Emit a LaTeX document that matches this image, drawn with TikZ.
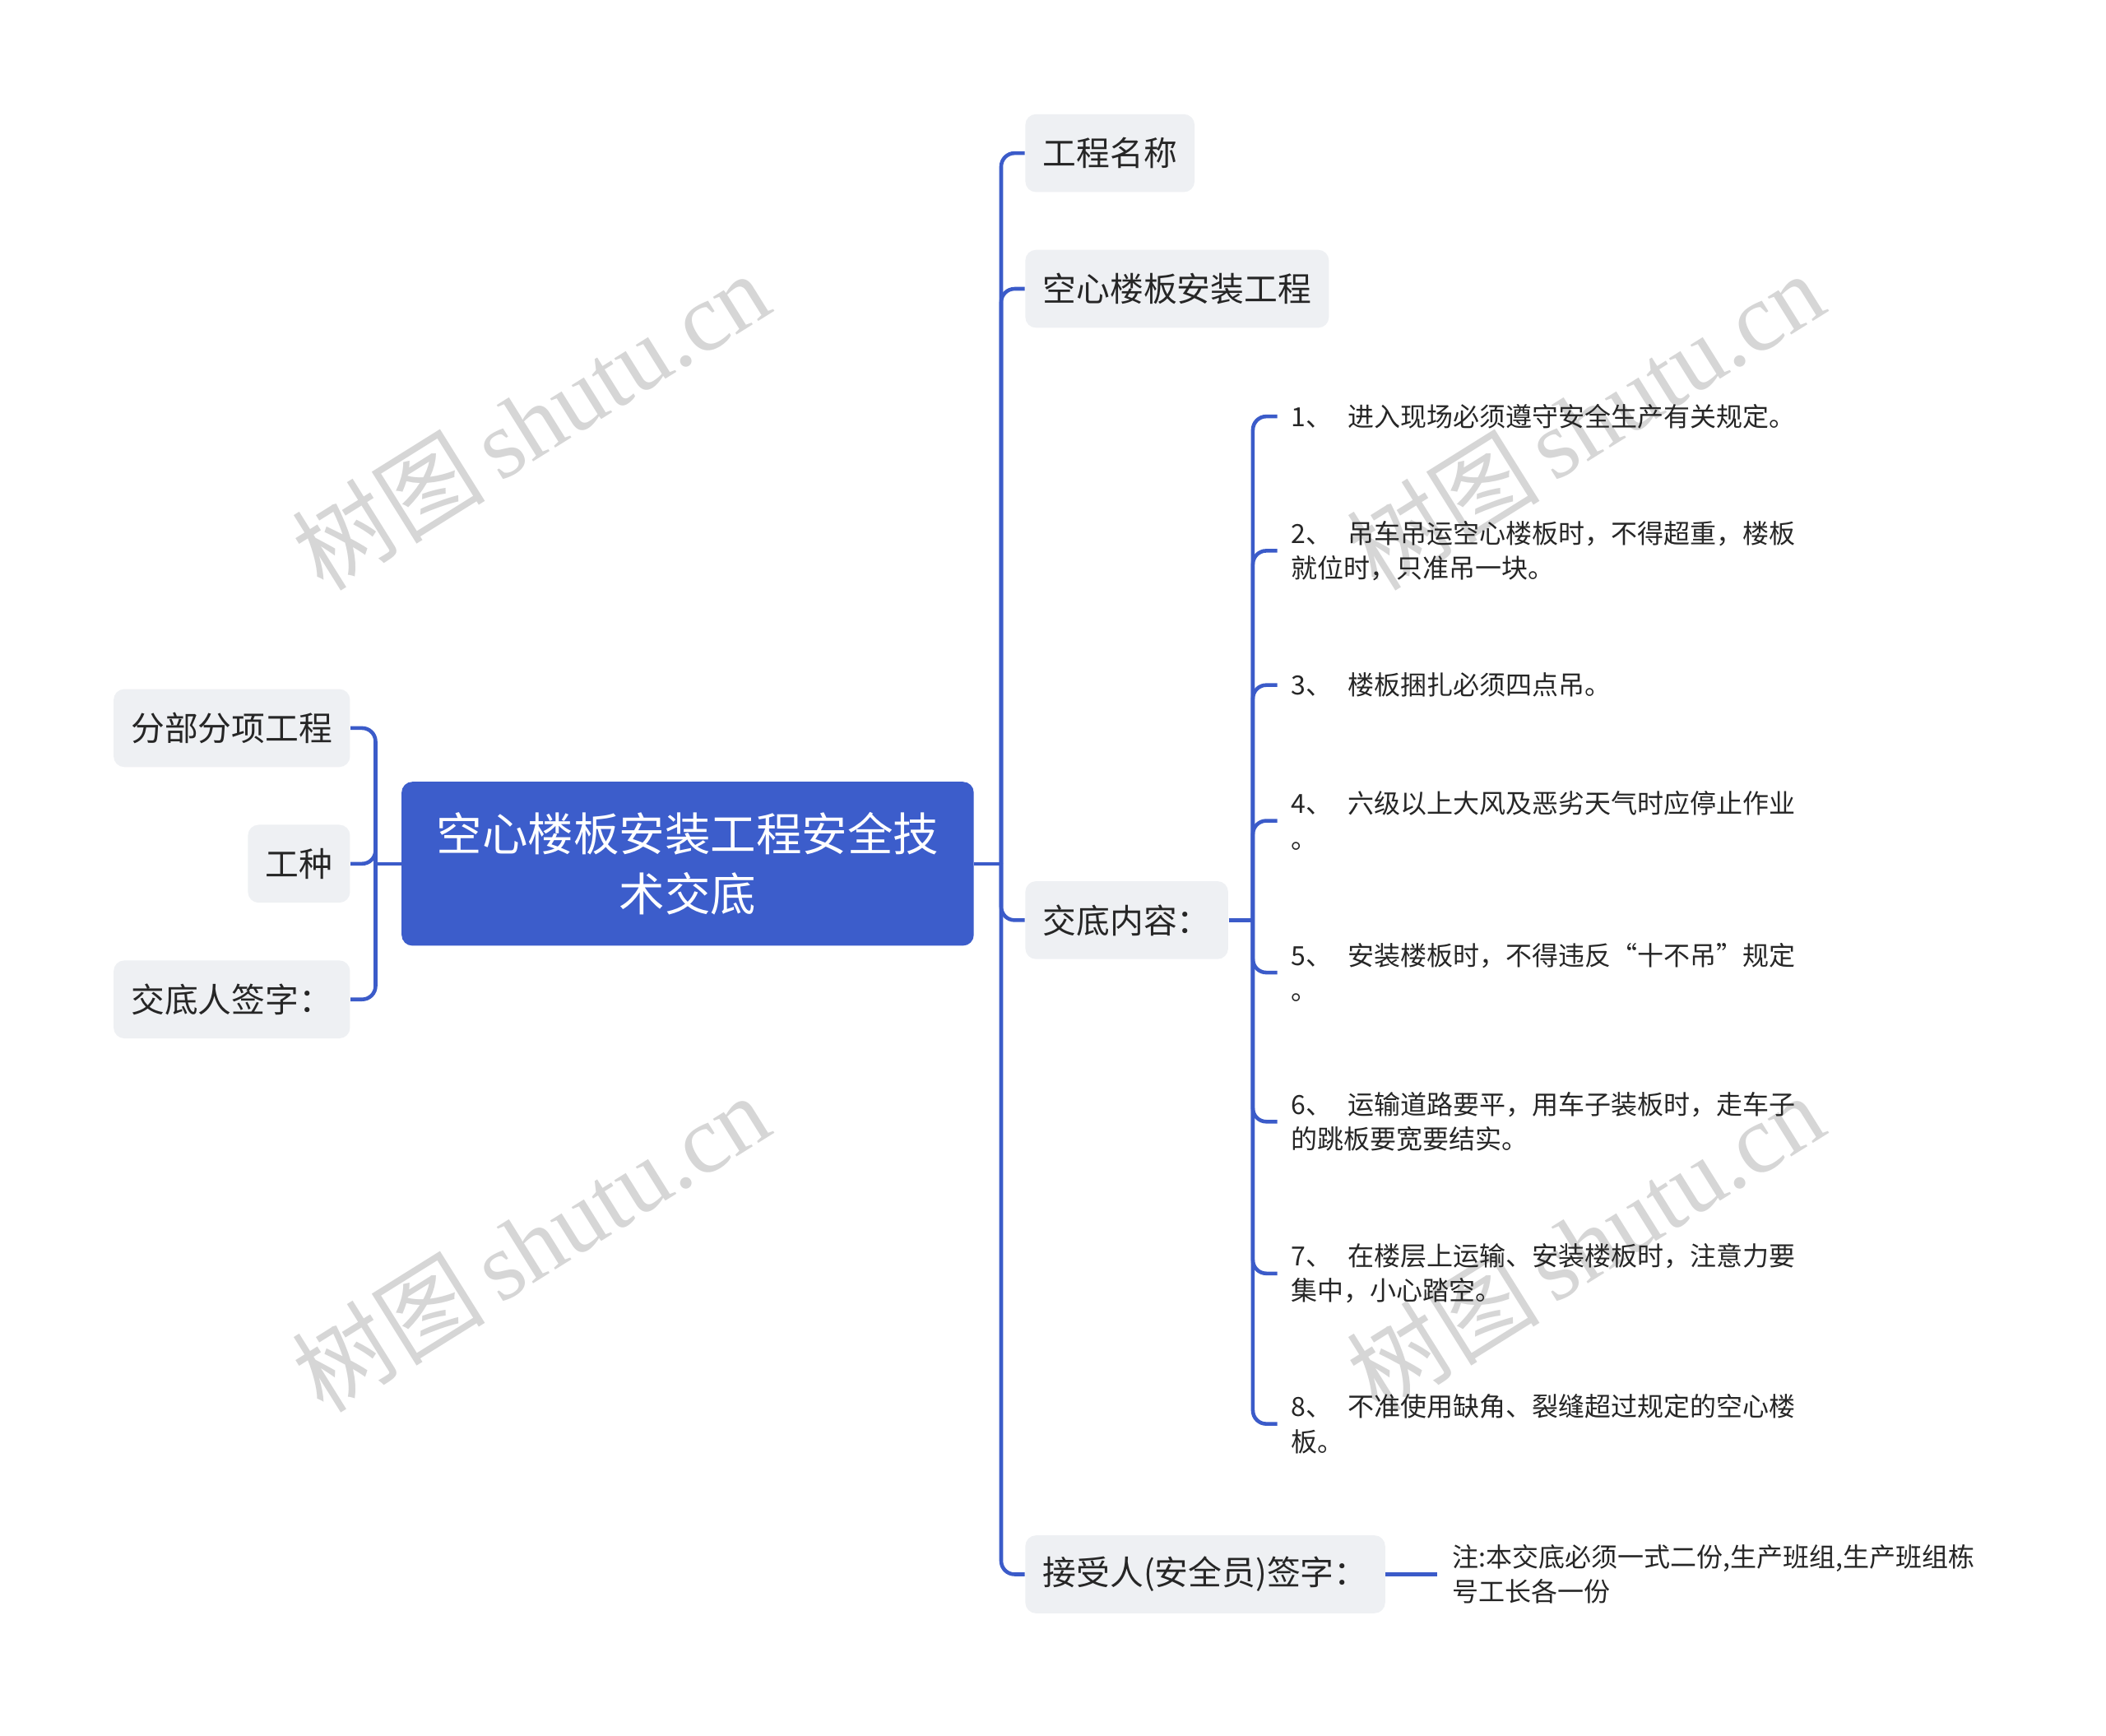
\documentclass[tikz,border=0pt]{standalone}
\usepackage{fontspec}
\setmainfont{Noto Sans CJK SC}
\newfontfamily\wmlatin{Liberation Serif}
\newfontfamily\cjkf{Noto Sans CJK SC}
\definecolor{lineblue}{HTML}{3B5BC9}
\definecolor{rootblue}{HTML}{3C5DCB}
\definecolor{nodegray}{HTML}{EEF0F3}
\definecolor{txt}{HTML}{262626}
\definecolor{wmgray}{HTML}{D6D6D6}
\tikzset{
  conn/.style={draw=lineblue, line width=1.4pt, rounded corners=5pt},
  topic/.style={rectangle, rounded corners=4pt, fill=nodegray, text=txt, inner xsep=6.5pt, inner ysep=0pt, minimum height=29pt, font=\fontsize{12.5pt}{15pt}\selectfont},
  rootbox/.style={rectangle, rounded corners=4pt, fill=rootblue, text=white, minimum width=213pt, minimum height=61pt, align=center, font=\fontsize{17pt}{22.5pt}\selectfont},
  leaf/.style={inner xsep=5pt, inner ysep=2pt, align=left, text=txt, font=\fontsize{9.8pt}{13pt}\selectfont},
  wm/.style={text=wmgray, rotate=32, inner sep=0pt, font=\fontsize{36pt}{36pt}\selectfont}
}
\begin{document}
\begin{tikzpicture}[x=0.5pt, y=-0.5pt]
\useasboundingbox (0,0) rectangle (1568,1292);
\fill[white] (0,0) rectangle (1568,1292);

% watermarks
\node[wm] (w1) at (395,313) {\cjkf 树图\hspace{0.15em}\wmlatin shutu.cn};
\node[wm] (w2) at (1180,313) {\cjkf 树图\hspace{0.15em}\wmlatin shutu.cn};
\node[wm] (w3) at (395,925) {\cjkf 树图\hspace{0.15em}\wmlatin shutu.cn};
\node[wm] (w4) at (1180,925) {\cjkf 树图\hspace{0.15em}\wmlatin shutu.cn};

% root
\node[rootbox] (root) at (512,643) {空心楼板安装工程安全技\\术交底};

% left
\node[topic, anchor=east] (a1) at (261,542) {分部分项工程};
\node[topic, anchor=east] (a2) at (261,643) {工种};
\node[topic, anchor=east] (a3) at (261,744) {交底人签字：};

% right
\node[topic, anchor=west] (b1) at (763,114) {工程名称};
\node[topic, anchor=west] (b2) at (763,215) {空心楼板安装工程};
\node[topic, anchor=west] (b3) at (763,685) {交底内容：};
\node[topic, anchor=west] (b4) at (763,1172) {接受人(安全员)签字：};

% leaves
\node[leaf, anchor=west] (c1) at (951,310) {1、\hspace{6pt}进入现场必须遵守安全生产有关规定。};
\node[leaf, anchor=west] (c2) at (951,410) {2、\hspace{6pt}吊车吊运空心楼板时，不得超重，楼板\\就位时，只准吊一块。};
\node[leaf, anchor=west] (c3) at (951,510) {3、\hspace{6pt}楼板捆扎必须四点吊。};
\node[leaf, anchor=west] (c4) at (951,611) {4、\hspace{6pt}六级以上大风及恶劣天气时应停止作业\\。};
\node[leaf, anchor=west] (c5) at (951,724) {5、\hspace{6pt}安装楼板时，不得违反“十不吊”规定\\。};
\node[leaf, anchor=west] (c6) at (951,835) {6、\hspace{6pt}运输道路要平，用车子装板时，走车子\\的跳板要宽要结实。};
\node[leaf, anchor=west] (c7) at (951,948) {7、\hspace{6pt}在楼层上运输、安装楼板时，注意力要\\集中，小心踏空。};
\node[leaf, anchor=west] (c8) at (951,1060) {8、\hspace{6pt}不准使用缺角、裂缝超过规定的空心楼\\板。};

\node[leaf, anchor=west, inner xsep=5.5pt] (note) at (1070,1172) {注:本交底必须一式二份,生产班组,生产班组栋\\号工长各一份};

% junction points
\coordinate (jl) at ([xshift=-9.5pt]root.west);
\coordinate (jr) at ([xshift=10pt]root.east);
\coordinate (jc) at ([xshift=9pt]b3.east);

% connectors
\draw[conn] (root.west) -- (jl);
\foreach \n in {a1,a2,a3} \draw[conn] (jl) |- (\n.east);
\draw[conn] (root.east) -- (jr);
\foreach \n in {b1,b2,b3,b4} \draw[conn] (jr) |- (\n.west);
\draw[conn] (b3.east) -- (jc);
\foreach \n in {c1,c2,c3,c4,c5,c6,c7,c8} \draw[conn] (jc) |- (\n.west);
\draw[conn] (b4.east) -- (note.west);
\end{tikzpicture}
\end{document}
